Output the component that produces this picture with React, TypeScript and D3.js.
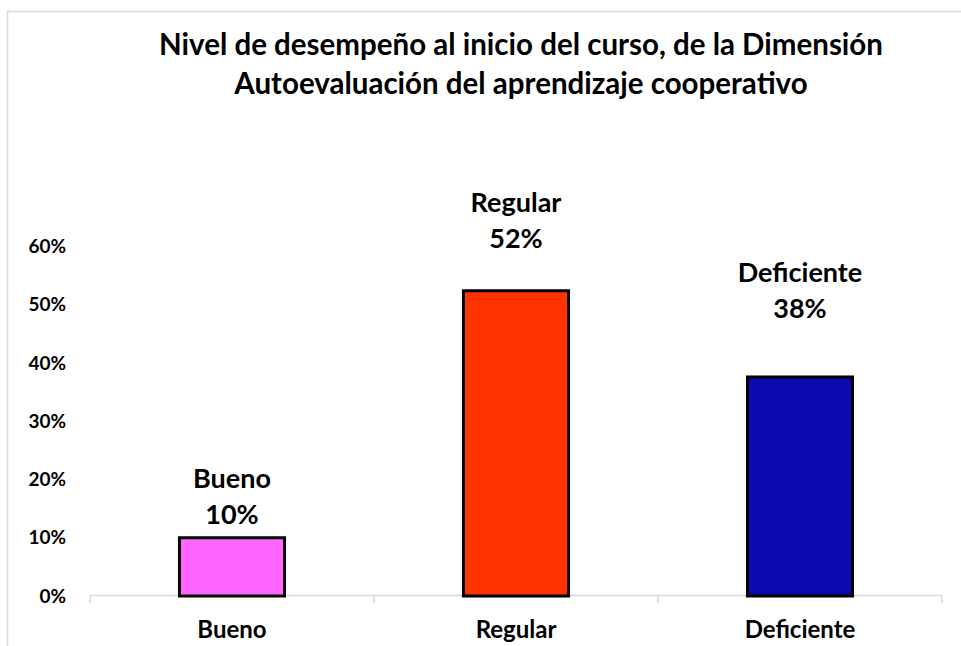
import React from "react";
import * as d3 from "d3";

const categories = ["Bueno", "Regular", "Deficiente"];
const values = [0.10, 0.524, 0.376];
const colors = ["#FF66FF", "#FF3300", "#0A0AB0"];
const yTicks = [0, 0.1, 0.2, 0.3, 0.4, 0.5, 0.6];
const titleLines = [
  "Nivel de desempeño al inicio del curso, de la Dimensión",
  "Autoevaluación del aprendizaje cooperativo",
];

const W = 961;
const H = 646;
const FONT = "Lato, 'Open Sans', sans-serif";

export default function App() {
  const x = d3.scaleBand<string>().domain(categories).range([90, 942]).padding(0);
  const y = d3.scaleLinear().domain([0, 0.6]).range([596, 246.5]);
  const barW = x.bandwidth() * 0.37;
  // extra gap between bar top and its label (manual label placement as in reference)
  const labelGap = [14, 43, 59];
  const fmt = (v: number) => `${Math.round(v * 100)}%`;

  return (
    <svg
      width={W}
      height={H}
      style={{ position: "absolute", left: 0, top: 0, background: "#fff" }}
      fontFamily={FONT}
    >
      <rect x={0} y={0} width={W} height={H} fill="#fff" />
      <rect x={7.5} y={11.5} width={970} height={660} fill="#fff" stroke="#d9d9d9" strokeWidth={1.5} />

      {titleLines.map((t, i) => (
        <text
          key={i}
          x={521}
          y={55 + i * 39}
          textAnchor="middle"
          fontSize={29.5}
          fontWeight={700}
          fill="#000"
        >
          {t}
        </text>
      ))}

      {yTicks.map((t) => (
        <text
          key={t}
          x={66}
          y={y(t)}
          dy="0.35em"
          textAnchor="end"
          fontSize={19}
          fontWeight={700}
          fill="#000"
        >
          {fmt(t)}
        </text>
      ))}

      <line x1={90} x2={942} y1={595.5} y2={595.5} stroke="#d9d9d9" strokeWidth={1.5} />
      {[...categories.map((c) => x(c) as number), 942].map((px, i) => (
        <line key={i} x1={px} x2={px} y1={595.5} y2={603} stroke="#d9d9d9" strokeWidth={1.5} />
      ))}

      {categories.map((c, i) => {
        const cx = (x(c) as number) + x.bandwidth() / 2;
        const top = y(values[i]);
        return (
          <g key={c}>
            <rect
              x={cx - barW / 2}
              y={top}
              width={barW}
              height={y(0) - top}
              fill={colors[i]}
              stroke="#000"
              strokeWidth={3}
            />
            <text
              x={cx}
              y={top - labelGap[i] - 36}
              textAnchor="middle"
              fontSize={27}
              fontWeight={700}
              fill="#000"
            >
              {c}
            </text>
            <text
              x={cx}
              y={top - labelGap[i]}
              textAnchor="middle"
              fontSize={27}
              fontWeight={700}
              fill="#000"
            >
              {fmt(values[i])}
            </text>
            <text
              x={cx}
              y={638}
              textAnchor="middle"
              fontSize={24}
              fontWeight={700}
              fill="#000"
            >
              {c}
            </text>
          </g>
        );
      })}
    </svg>
  );
}
